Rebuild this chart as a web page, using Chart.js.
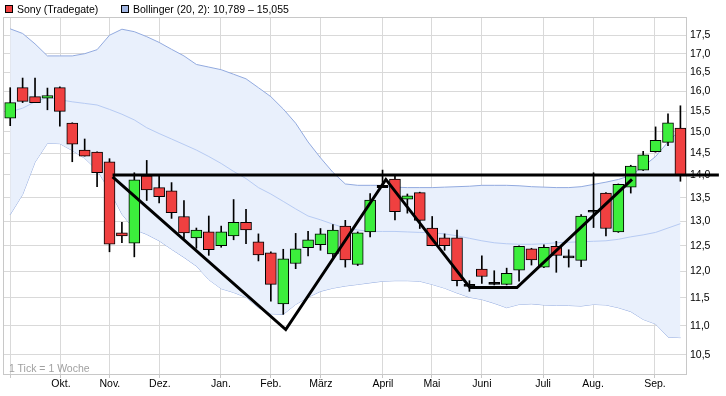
<!DOCTYPE html>
<html>
<head>
<meta charset="utf-8">
<script src="https://cdn.jsdelivr.net/npm/chart.js@4"></script>
<style>
body { margin: 0; background: #fff; }
#wrap { position: relative; width: 726px; height: 396px; font-family: "Liberation Sans", Arial, sans-serif; font-size: 10.5px; color: #000; }
.sq { position: absolute; top: 5px; width: 6px; height: 6px; border: 1px solid #000; }
.lg { position: absolute; top: 3px; line-height: 12px; white-space: nowrap; }
#note { position: absolute; left: 9px; top: 362px; line-height: 12px; color: #a0a0a0; white-space: nowrap; }
</style>
</head>
<body>
<div id="wrap">
  <canvas id="c" width="726" height="396"></canvas>
  <div class="sq" style="left:5px;background:#f04040"></div>
  <div class="lg" style="left:17px">Sony (Tradegate)</div>
  <div class="sq" style="left:121px;background:#a2b6e2"></div>
  <div class="lg" style="left:133px">Bollinger (20, 2): 10,789 – 15,055</div>
  <div id="note">1 Tick = 1 Woche</div>
</div>
<script>
// weekly candles, oldest first
const open  = [15.33,16.10,15.87,15.83,16.10,15.21,14.57,14.52,14.30,12.76, 12.55,13.98,13.72,13.65,13.10,12.66,12.78,12.50,12.70,12.98,
               12.58,12.36,11.39,12.15,12.46,12.52,12.34,12.90,12.13,12.78, 13.77,13.91,13.47,13.61,12.86,12.66,12.66,11.75,12.04,11.79,
               11.75,12.02,12.44,12.08,12.49,12.30,12.21,13.19,13.60,12.78, 13.73,14.11,14.53,14.75,15.09]
const high  = [16.10,16.35,16.35,16.09,16.12,15.22,14.83,14.53,14.37,12.98, 14.05,14.33,13.98,13.83,13.44,12.86,13.11,12.90,13.46,13.25,
               12.74,12.38,12.43,12.75,12.79,12.85,12.93,13.02,12.78,13.59, 14.11,13.99,13.58,13.62,13.10,12.74,12.82,11.82,12.30,12.01,
               12.06,12.50,12.45,12.52,12.59,12.42,13.14,14.05,13.61,13.80, 14.22,14.54,15.12,15.44,15.64]
const low   = [15.15,15.72,15.72,15.54,15.14,14.30,14.43,13.74,12.38,12.56, 12.28,13.44,13.39,13.06,12.65,12.45,12.31,12.47,12.62,12.54,
               12.20,11.44,11.20,12.05,12.30,12.41,12.27,12.08,12.11,12.68, 13.72,13.03,13.17,12.85,12.50,12.41,11.72,11.62,11.77,11.74,
               11.74,11.81,12.12,12.07,11.98,12.08,12.09,12.87,12.70,12.77, 13.60,14.10,14.52,14.67,13.86]
const close = [15.72,15.75,15.72,15.90,15.50,14.71,14.43,14.05,12.53,12.70, 13.89,13.67,13.52,13.18,12.76,12.82,12.42,12.78,12.98,12.82,
               12.32,11.75,12.24,12.44,12.62,12.74,12.82,12.22,12.76,13.45, 13.72,13.20,13.54,13.02,12.50,12.50,11.82,11.71,11.90,11.75,
               11.96,12.49,12.22,12.47,12.31,12.26,13.11,13.23,12.85,13.79, 14.20,14.46,14.80,15.22,14.00]

// Bollinger (20, 2)
const bbUpper  = [17.69,17.56,17.27,16.94,16.94,16.94,17.00,17.11,17.51,17.68, 17.61,17.47,17.31,17.12,16.94,16.71,16.64,16.57,16.45,16.33,
                  16.10,15.87,15.56,15.21,14.76,14.39,14.06,13.80,13.77,13.77, 13.77,13.73,13.72,13.72,13.72,13.73,13.74,13.75,13.77,13.77,
                  13.77,13.76,13.74,13.73,13.72,13.72,13.74,13.79,13.84,13.90, 13.99,14.19,14.42,14.76,15.06]
const bbMiddle = [15.49,15.58,15.74,15.85,15.79,15.74,15.70,15.66,15.55,15.43, 15.29,15.10,14.96,14.83,14.70,14.57,14.42,14.26,14.08,13.92,
                  13.72,13.58,13.42,13.26,13.11,13.03,12.94,12.86,12.82,12.79, 12.79,12.79,12.78,12.77,12.76,12.74,12.70,12.65,12.60,12.56,
                  12.54,12.53,12.53,12.54,12.56,12.57,12.58,12.59,12.60,12.63, 12.68,12.72,12.77,12.86,12.95]
const bbLower  = [13.14,13.57,14.29,14.73,14.72,14.56,14.38,14.11,13.66,13.15, 12.83,12.73,12.60,12.43,12.27,12.10,11.84,11.67,11.60,11.51,
                  11.32,11.21,11.20,11.38,11.51,11.62,11.68,11.72,11.75,11.78, 11.81,11.82,11.82,11.81,11.75,11.68,11.59,11.51,11.47,11.40,
                  11.32,11.38,11.39,11.37,11.36,11.36,11.35,11.38,11.37,11.32, 11.25,11.11,11.03,10.80,10.79]

// drawn pattern (x in weeks, y in EUR)
const resistX = [8.25, 57.1]
const resistY = [14.0, 14.0]
const zigX = [8.25, 22.2, 30.27, 37.04, 40.83, 50.1]
const zigY = [13.96, 10.93, 13.90, 11.69, 11.69, 13.90]

// month grid lines, position in weeks
const monthPos    = [0, 4.09, 8.03, 12.06, 16.98, 21.0, 25.03, 30.03, 33.98, 38.0, 42.93, 46.96, 51.95]
const monthLabels = ['', 'Okt.', 'Nov.', 'Dez.', 'Jan.', 'Feb.', 'März', 'April', 'Mai', 'Juni', 'Juli', 'Aug.', 'Sep.']
const yTicks = [10.5, 11.0, 11.5, 12.0, 12.5, 13.0, 13.5, 14.0, 14.5, 15.0, 15.5, 16.0, 16.5, 17.0, 17.5]

const UP = '#3cee3c', DOWN = '#f04040'
const xy = (xs, ys) => xs.map((x, i) => ({x: x, y: ys[i]}))
const series = arr => arr.map((v, i) => ({x: i, y: v}))
// doji: body so thin it shows as a black dash
const bodyColor = (o, c) => Math.abs(c - o) / o < 0.004 ? '#000' : (c >= o ? UP : DOWN)

const frame = {
    id: 'frame',
    beforeDatasetsDraw(chart) {
        const {ctx, chartArea: a} = chart
        ctx.save()
        ctx.strokeStyle = '#c8c8c8'
        ctx.lineWidth = 1
        ctx.strokeRect(Math.round(a.left) - 0.5, Math.round(a.top) - 0.5, Math.round(a.right - a.left) + 1, Math.round(a.bottom - a.top) + 1)
        ctx.restore()
    }
}

Chart.defaults.font.family = '"Liberation Sans", Arial, sans-serif'
Chart.defaults.font.size = 10.5
Chart.defaults.color = '#000'

new Chart(document.getElementById('c'), {
    type: 'bar',
    data: {
        datasets: [
            {type: 'line', data: xy(resistX, resistY), borderColor: '#000', borderWidth: 3, pointRadius: 0, clip: false, order: 0},
            {type: 'line', data: xy(zigX, zigY), borderColor: '#000', borderWidth: 3, pointRadius: 0, clip: false, order: 0},
            {
                data: open.map((o, i) => ({x: i, y: [o, close[i]]})),
                backgroundColor: open.map((o, i) => bodyColor(o, close[i])),
                borderColor: '#000', borderWidth: 1, borderSkipped: false,
                barThickness: 11, grouped: false, order: 1
            },
            {
                data: low.map((l, i) => ({x: i, y: [l, high[i]]})),
                backgroundColor: '#000', borderWidth: 0,
                barThickness: 1, grouped: false, order: 2
            },
            {type: 'line', data: series(bbMiddle), borderColor: '#b7cbf3', borderWidth: 1, pointRadius: 0, order: 3},
            {type: 'line', data: series(bbUpper), borderColor: '#92aadf', borderWidth: 1, pointRadius: 0,
             fill: '+1', backgroundColor: '#e9f0fc', order: 4},
            {type: 'line', data: series(bbLower), borderColor: '#92aadf', borderWidth: 1, pointRadius: 0, order: 4}
        ]
    },
    options: {
        responsive: false,
        animation: false,
        layout: {padding: {left: 4, top: 18, right: 0, bottom: 0}},
        plugins: {legend: {display: false}, tooltip: {enabled: false}},
        scales: {
            x: {
                type: 'linear', min: -0.5, max: 54.45, offset: false,
                afterBuildTicks: axis => { axis.ticks = monthPos.map(v => ({value: v})) },
                afterFit: axis => { axis.height = 22 },
                ticks: {autoSkip: false, maxRotation: 0, padding: 0, callback: (v, i) => monthLabels[i]},
                grid: {color: '#d9d9d9', tickLength: 4, tickColor: '#c8c8c8', offset: false},
                border: {color: '#c8c8c8'}
            },
            y: {
                type: 'logarithmic', position: 'right', min: 10.18, max: 18.0,
                afterBuildTicks: axis => { axis.ticks = yTicks.map(v => ({value: v})) },
                afterFit: axis => { axis.width = 40 },
                ticks: {padding: 4, callback: v => v.toFixed(1).replace('.', ',')},
                grid: {color: '#d9d9d9', drawTicks: false},
                border: {color: '#c8c8c8'}
            }
        }
    },
    plugins: [frame]
})
</script>
</body>
</html>
